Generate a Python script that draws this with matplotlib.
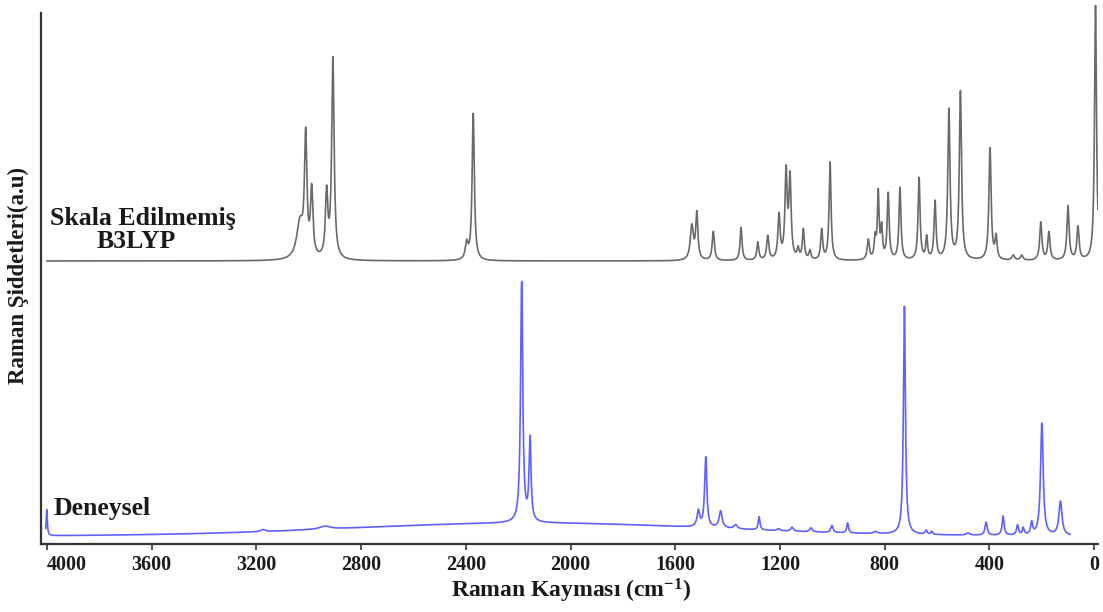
import numpy as np
import matplotlib
matplotlib.use('Agg')
import matplotlib.pyplot as plt

plt.rcParams['font.family'] = ['Liberation Serif', 'DejaVu Serif']
plt.rcParams['font.weight'] = 'bold'
plt.rcParams['axes.labelweight'] = 'bold'
plt.rcParams['mathtext.fontset'] = 'custom'
plt.rcParams['mathtext.rm'] = 'Liberation Serif:bold'
plt.rcParams['mathtext.it'] = 'Liberation Serif:bold'
plt.rcParams['mathtext.bf'] = 'Liberation Serif:bold'

# Calculated (unscaled B3LYP) Raman bands: position (cm-1), intensity (a.u.), width (cm-1)
calc_pos = [3034, 3012, 2989, 2932, 2908, 2397, 2372,
            1537, 1518, 1455, 1349, 1285, 1247, 1204, 1177, 1162,
            1131, 1111, 1086, 1041, 1009,
            863, 837, 825, 812, 787, 742, 669, 640, 608, 555, 511,
            398, 375, 309, 277, 204, 173, 100, 62, -5]
calc_int = [36, 118, 66, 64, 200, 16, 147,
            34, 46, 29, 33, 18, 24, 44, 86, 80,
            10, 30, 9, 30, 98,
            20, 20, 66, 30, 66, 72, 82, 22, 58, 150, 168,
            112, 22, 5, 5, 38, 28, 54, 33, 256]
calc_wid = [30, 11, 11, 11, 11, 12, 10,
            14, 10, 10, 9, 9, 10, 10, 10, 10,
            9, 9, 9, 9, 9,
            10, 8, 8, 8, 9, 9, 9, 8, 9, 10, 10,
            10, 9, 12, 12, 10, 10, 10, 10, 9]

# Experimental Raman bands
exp_pos = [4001, 3175, 2938, 2187, 2155,
           1512, 1484, 1427, 1370, 1280, 1206, 1154, 1082, 1002, 942, 835,
           725, 642, 621, 482, 413, 348, 293, 271, 239, 200, 129]
exp_int = [26, 2, 3, 240, 82,
           16, 70, 17, 4, 13, 2, 4, 4, 7, 10, 2,
           228, 4, 3, 2, 13, 19, 10, 7, 12, 112, 34]
exp_wid = [5, 20, 50, 10, 9,
           12, 10, 14, 15, 8, 12, 12, 12, 10, 8, 15,
           9, 8, 8, 15, 10, 9, 9, 8, 9, 12, 14]
# broad fluorescence background of the experimental trace: centre, height, sigma
exp_bg = (2150, 13, 700)

calc_range = (4000, -14)
exp_range = (4005, 92)
calc_offset = 283
exp_offset = 8

xticks = [4000, 3600, 3200, 2800, 2400, 2000, 1600, 1200, 800, 400, 0]


def bands(x, pos, inten, wid):
    y = np.zeros_like(x)
    for p, h, w in zip(pos, inten, wid):
        y += h / (1 + ((x - p) / (w / 2)) ** 2)
    return y


x_calc = np.linspace(calc_range[0], calc_range[1], 12000)
y_calc = calc_offset + bands(x_calc, calc_pos, calc_int, calc_wid)

x_exp = np.linspace(exp_range[0], exp_range[1], 12000)
y_exp = (exp_offset + bands(x_exp, exp_pos, exp_int, exp_wid)
         + exp_bg[1] * np.exp(-(x_exp - exp_bg[0]) ** 2 / (2 * exp_bg[2] ** 2)))

W, H = 1103, 612
fig = plt.figure(figsize=(W / 100, H / 100), dpi=100, facecolor='white')
ax = fig.add_axes([41 / W, 68 / H, 1057 / W, 539 / H])

ax.plot(x_calc, y_calc, color='#6a6a6a', lw=1.2)
ax.plot(x_exp, y_exp, color='#6060ff', lw=1.2)

ax.set_xlim(4023, -14.5)
ax.set_ylim(0, 539)

for s in ['top', 'right']:
    ax.spines[s].set_visible(False)
ax.spines['left'].set_bounds(0, 531)
ax.spines['left'].set_color('#333333')
ax.spines['bottom'].set_color('#333333')
ax.spines['left'].set_linewidth(1.6)
ax.spines['bottom'].set_linewidth(1.6)

ax.set_yticks([])
ax.set_xticks(xticks)
ax.set_xticklabels([str(t) for t in xticks])
ax.tick_params(axis='x', length=4, width=1.2, pad=4, labelsize=14.5,
               color='#333333', labelcolor='#1a1a1a')
# first label sits to the right of its tick, as in the original
ax.get_xticklabels()[0].set_horizontalalignment('left')

ax.set_xlabel('Raman Kayması (cm$^{-1}$)', fontsize=17, color='#1a1a1a', va='center')
ax.xaxis.set_label_coords(0.501, -0.087)
fig.text(18 / W, 1 - 275 / H, 'Raman Şiddetleri(a.u)', rotation=90,
         ha='center', va='center', fontsize=16.5, color='#1a1a1a')

# series labels
fig.text(50 / W, 1 - 218 / H, 'Skala Edilmemiş', ha='left', va='center',
         fontsize=18.5, color='#1a1a1a')
fig.text(97 / W, 1 - 242 / H, 'B3LYP', ha='left', va='center',
         fontsize=18.5, color='#1a1a1a')
fig.text(54 / W, 1 - 508 / H, 'Deneysel', ha='left', va='center',
         fontsize=18.5, color='#1a1a1a')

fig.savefig('out.png', dpi=100, facecolor='white')
